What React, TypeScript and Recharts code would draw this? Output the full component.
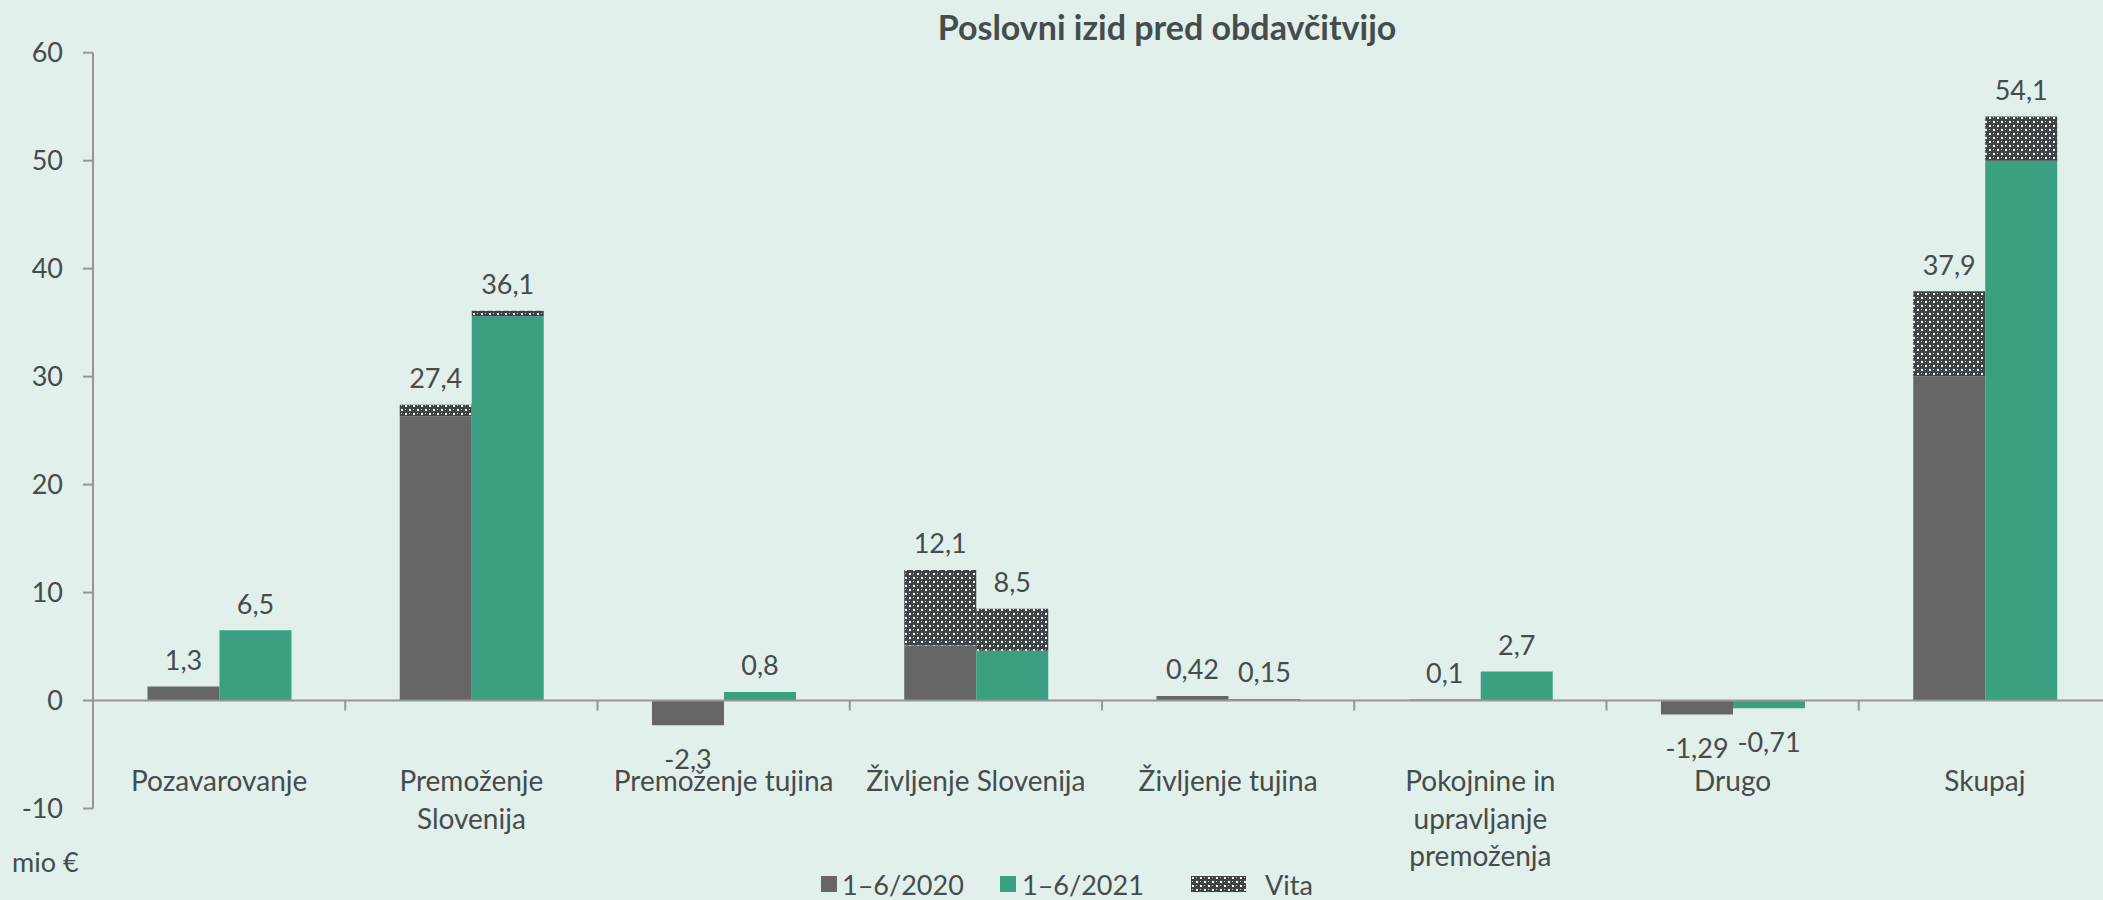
import { BarChart, Bar, XAxis, YAxis, ReferenceLine, LabelList, Legend } from "recharts";

const categories = [
  "Pozavarovanje",
  "Premoženje\nSlovenija",
  "Premoženje tujina",
  "Življenje Slovenija",
  "Življenje tujina",
  "Pokojnine in\nupravljanje\npremoženja",
  "Drugo",
  "Skupaj",
];

// base part (without Vita) and the Vita part, mio €
const base2020 = [1.3, 26.3, -2.3, 5.1, 0.42, 0.1, -1.29, 30.0];
const vita2020 = [0, 1.1, 0, 7.0, 0, 0, 0, 7.9];
const base2021 = [6.5, 35.6, 0.8, 4.6, 0.15, 2.7, -0.71, 50.0];
const vita2021 = [0, 0.5, 0, 3.9, 0, 0, 0, 4.1];

const labels2020 = ["1,3", "27,4", "-2,3", "12,1", "0,42", "0,1", "-1,29", "37,9"];
const labels2021 = ["6,5", "36,1", "0,8", "8,5", "0,15", "2,7", "-0,71", "54,1"];

const yTicks = [-10, 0, 10, 20, 30, 40, 50, 60];

const data = categories.map((name, i) => ({
  name,
  b2020: base2020[i],
  v2020: vita2020[i],
  b2021: base2021[i],
  v2021: vita2021[i],
}));

const grayColor = "#666666";
const greenColor = "#3ba081";
const textColor = "#454c4c";
const axisColor = "#969696";
const bgColor = "#e2f0eb";
const fontFamily = "Lato, 'Open Sans', sans-serif";

function VitaPattern({ id }: { id: string }) {
  return (
    <pattern id={id} width="8" height="8" patternUnits="userSpaceOnUse">
      <rect width="8" height="8" fill="#3f4547" />
      <rect x="1" y="1" width="2" height="2" fill="#ffffff" />
      <rect x="5" y="5" width="2" height="2" fill="#ffffff" />
      <rect x="5" y="1" width="1" height="1" fill="#b8bcbc" />
      <rect x="1" y="5" width="1" height="1" fill="#b8bcbc" />
    </pattern>
  );
}

function CategoryTick(props: any) {
  const { x, y, payload } = props;
  const lines = String(payload.value).split("\n");
  return (
    <g>
      {lines.map((line: string, i: number) => (
        <text
          key={i}
          x={x}
          y={y - 28.5 + i * 37.5}
          textAnchor="middle"
          dominantBaseline="central"
          fontSize={28}
          fontFamily={fontFamily}
          fill={textColor}
        >
          {line}
        </text>
      ))}
    </g>
  );
}

function ZeroLine(props: any) {
  const { x1, x2, y1 } = props;
  const n = categories.length;
  const step = (x2 - x1) / n;
  const marks = [];
  for (let i = 1; i < n; i++) {
    marks.push(
      <line key={i} x1={x1 + i * step} x2={x1 + i * step} y1={y1} y2={y1 + 10} stroke={axisColor} strokeWidth={2} />
    );
  }
  return (
    <g>
      <line x1={x1} x2={x2} y1={y1} y2={y1} stroke={axisColor} strokeWidth={2} />
      {marks}
    </g>
  );
}

// label sits on the base bar; the Vita part on top is scaled with the base bar's own pixels per unit
function totalLabel(labels: string[], bases: number[], vitas: number[]) {
  return (props: any) => {
    const { x, y, width, height, index } = props;
    const text = labels[index];
    const pxPerUnit = Math.abs(height) / Math.abs(bases[index]);
    const top = Math.min(y, y + height) - vitas[index] * pxPerUnit;
    const bottom = Math.max(y, y + height);
    const negative = text.startsWith("-");
    return (
      <text
        x={x + width / 2}
        y={negative ? bottom + 33 : top - 27}
        textAnchor="middle"
        dominantBaseline="central"
        fontSize={27}
        fontFamily={fontFamily}
        fill={textColor}
      >
        {text}
      </text>
    );
  };
}

function LegendContent() {
  const item = { position: "absolute" as const, top: 0, height: 30, display: "flex", alignItems: "center" };
  return (
    <div style={{ position: "relative", width: 520, height: 30, fontFamily, fontSize: 27, color: textColor }}>
      <div style={{ ...item, left: 9 }}>
        <span style={{ width: 16, height: 16, background: grayColor, marginRight: 5 }} />
        <span>1–6/2020</span>
      </div>
      <div style={{ ...item, left: 188 }}>
        <span style={{ width: 16, height: 16, background: greenColor, marginRight: 6 }} />
        <span>1–6/2021</span>
      </div>
      <div style={{ ...item, left: 379 }}>
        <svg width={55} height={16} style={{ marginRight: 19 }}>
          <defs>
            <VitaPattern id="vitaLegend" />
          </defs>
          <rect width={55} height={16} fill="url(#vitaLegend)" />
        </svg>
        <span>Vita</span>
      </div>
    </div>
  );
}

export default function App() {
  return (
    <div
      style={{
        position: "absolute",
        left: 0,
        top: 0,
        width: 2103,
        height: 900,
        overflow: "hidden",
        background: bgColor,
        fontFamily,
      }}
    >
      <div
        style={{
          position: "absolute",
          left: 767,
          top: 10,
          width: 800,
          textAlign: "center",
          fontSize: 34,
          lineHeight: "34px",
          fontWeight: 700,
          color: textColor,
        }}
      >
        Poslovni izid pred obdavčitvijo
      </div>
      <div
        style={{
          position: "absolute",
          left: 12,
          top: 848,
          fontSize: 27,
          lineHeight: "28px",
          color: textColor,
        }}
      >
        mio €
      </div>
      <BarChart
        width={2111}
        height={900}
        data={data}
        margin={{ top: 52.7, right: 0, bottom: 0, left: 0 }}
        barCategoryGap="21.6%"
        barGap={0}
        style={{ position: "absolute", left: 0, top: 0 }}
      >
        <defs>
          <VitaPattern id="vitaFill" />
        </defs>
        <XAxis
          dataKey="name"
          height={91.5}
          interval={0}
          axisLine={false}
          tickLine={false}
          tickSize={0}
          tickMargin={0}
          tick={<CategoryTick />}
        />
        <YAxis
          width={93}
          domain={[-10, 60]}
          ticks={yTicks}
          interval={0}
          allowDataOverflow
          tickSize={10}
          tickMargin={20}
          axisLine={{ stroke: axisColor, strokeWidth: 2 }}
          tickLine={{ stroke: axisColor, strokeWidth: 2 }}
          tick={{ fill: textColor, fontSize: 27, fontFamily }}
        />
        <Bar dataKey="b2020" stackId="a" fill={grayColor} isAnimationActive={false}>
          <LabelList dataKey="b2020" content={totalLabel(labels2020, base2020, vita2020)} />
        </Bar>
        <Bar dataKey="v2020" stackId="a" fill="url(#vitaFill)" isAnimationActive={false} />
        <Bar dataKey="b2021" stackId="b" fill={greenColor} isAnimationActive={false}>
          <LabelList dataKey="b2021" content={totalLabel(labels2021, base2021, vita2021)} />
        </Bar>
        <Bar dataKey="v2021" stackId="b" fill="url(#vitaFill)" isAnimationActive={false} />
        <ReferenceLine y={0} ifOverflow="visible" shape={<ZeroLine />} />
        <Legend
          verticalAlign="middle"
          align="center"
          layout="horizontal"
          wrapperStyle={{ position: "absolute", left: 812, top: 869, width: 520, height: 30 }}
          content={<LegendContent />}
        />
      </BarChart>
    </div>
  );
}
